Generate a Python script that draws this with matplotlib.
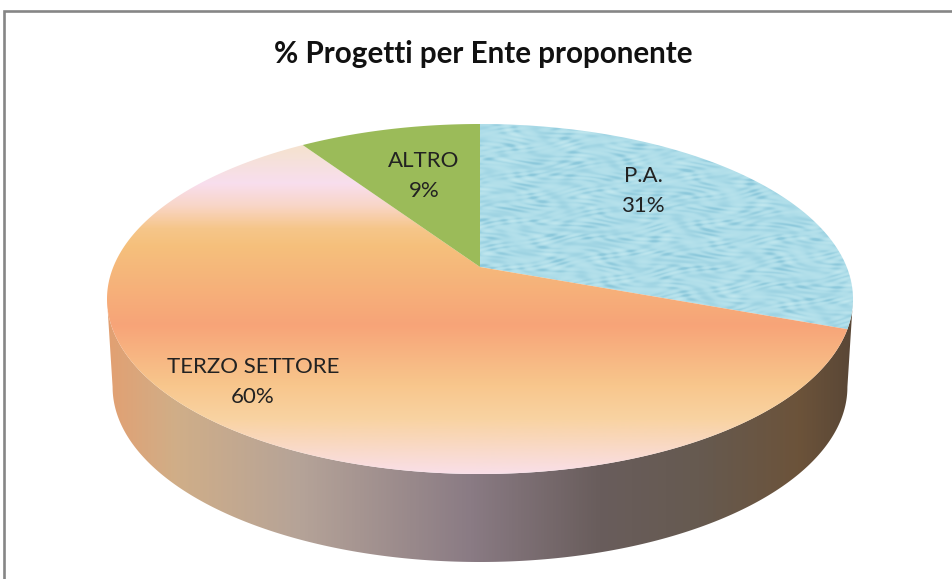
import numpy as np
import matplotlib
matplotlib.use("Agg")
import matplotlib.pyplot as plt
from matplotlib.colors import LinearSegmentedColormap, to_rgb
from matplotlib.patches import Polygon

labels = ["P.A.", "TERZO SETTORE", "ALTRO"]
shares = [30.6, 60.0, 9.4]
title = "% Progetti per Ente proponente"

plt.rcParams['font.family'] = ['Lato', 'DejaVu Sans']

W, H = 953, 579
fig = plt.figure(figsize=(W / 100, H / 100), dpi=100)
ax = fig.add_axes([0, 0, 1, 1])
ax.set_xlim(0, W)
ax.set_ylim(H, 0)
ax.axis("off")

# pie is a flat disc seen in perspective, so the apex is above the ellipse centre
cx, apex_y, top_y, bot_y, half_w = 480, 267, 124, 474, 373
e = (top_y + bot_y - 2 * apex_y) / (bot_y - top_y)
c = top_y * (1 + e) - apex_y
a = half_w * np.sqrt(1 - e * e)
depth = 88


def rim(t):
    u, v = np.sin(t), np.cos(t)
    den = 1 + e * v
    return cx + a * u / den, (apex_y + c * v) / den


def vgrad(stops):
    # stops are (pixel position, colour)
    ys = [s[0] for s in stops]
    pos = [(y - ys[0]) / (ys[-1] - ys[0]) for y in ys]
    return LinearSegmentedColormap.from_list("g", list(zip(pos, [s[1] for s in stops]))), ys[0], ys[-1]


def shade(cmap_info, patch, horiz=False):
    cm, lo, hi = cmap_info
    ramp = np.linspace(0, 1, 512)
    if horiz:
        img = ax.imshow(cm(ramp)[None, :, :], extent=(lo, hi, H, 0), aspect="auto", zorder=patch.get_zorder())
    else:
        img = ax.imshow(cm(ramp)[:, None, :], extent=(0, W, hi, lo), aspect="auto", zorder=patch.get_zorder())
    patch.set_facecolor("none")
    patch.set_edgecolor("none")
    ax.add_patch(patch)
    img.set_clip_path(patch)


# side wall
tt = np.linspace(0, 2 * np.pi, 721)
rx, ry = rim(tt)
sx = cx + (rx - cx) * 0.985
sy = ry + depth
right = np.argmax(rx)
left = np.argmin(rx)
wall_x = np.r_[rx[right:left + 1], sx[right:left + 1][::-1]]
wall_y = np.r_[ry[right:left + 1], sy[right:left + 1][::-1]]
wall = Polygon(np.c_[wall_x, wall_y], closed=True, zorder=1)
shade(vgrad([(107, "#E2A072"), (175, "#D0AE88"), (300, "#B5A398"), (470, "#8A7B84"),
             (600, "#695D5C"), (700, "#665A50"), (800, "#6C533A"), (853, "#5A4736")]), wall, horiz=True)

# top face, one wedge per share
edges = np.cumsum([0] + shares) / sum(shares) * 2 * np.pi
polys = []
for i in range(len(shares)):
    t = np.linspace(edges[i], edges[i + 1], 300)
    x, y = rim(t)
    polys.append(np.c_[np.r_[cx, x], np.r_[apex_y, y]])

# water droplet look for P.A., built from crossed waves
yy, xx = np.mgrid[0:H, 0:W].astype(float)
w1 = np.sin(xx * 0.23 + 2.6 * np.sin(yy * 0.27 + xx * 0.031)) * np.sin(yy * 0.83 + 2.1 * np.sin(xx * 0.067))
w2 = np.sin(xx * 0.053 + yy * 0.19 + 3.1 * np.sin(xx * 0.029 - yy * 0.113))
w3 = np.sin(xx * 0.11 - yy * 0.37 + 2.7 * np.sin(xx * 0.041 + yy * 0.071))
tex = np.clip(0.5 * w1 + 0.35 * w1 * w2 + 0.35 * w2 * w3, -1, 1)[..., None]
base = np.array(to_rgb("#AEDDE9"))
dark = np.array(to_rgb("#8CC8DB"))
pale = np.array(to_rgb("#BFE6EE"))
pa_img = base + np.clip(tex, 0, 1) * (dark - base) + np.clip(-tex, 0, 1) * (pale - base)
pa = Polygon(polys[0], closed=True, zorder=2, fc="none", ec="none")
ax.add_patch(pa)
im = ax.imshow(pa_img, extent=(0, W, H, 0), aspect="auto", zorder=2, interpolation="bilinear")
im.set_clip_path(pa)

terzo = Polygon(polys[1], closed=True, zorder=2)
shade(vgrad([(124, "#F5E6CC"), (150, "#F5E2D2"), (183, "#F8DEEE"), (205, "#F9D6C8"), (228, "#F6C68A"),
             (245, "#F5C07C"), (325, "#F7A478"), (385, "#F8C68C"), (420, "#F9D3A2"), (474, "#F9DFE8")]), terzo)

ax.add_patch(Polygon(polys[2], closed=True, zorder=2, fc="#9BBB59", ec="none"))

# frame, only top and left show in the crop
ax.plot([4.5, 4.5, W], [H, 10.5, 10.5], color="#868686", lw=1.9, zorder=5, solid_joinstyle="miter")

ax.text(483.5, 54, title, ha="center", va="center", fontsize=21.3, fontweight="bold", color="#111111", zorder=6)
pos = [(643, 191), (253, 382), (424, 176)]
for name, v, (px, py) in zip(labels, shares, pos):
    ax.text(px, py, f"{name}\n{v:.0f}%", ha="center", va="center", fontsize=16, color="#222222",
            linespacing=1.6, zorder=6)

fig.savefig("out.png", dpi=100)
